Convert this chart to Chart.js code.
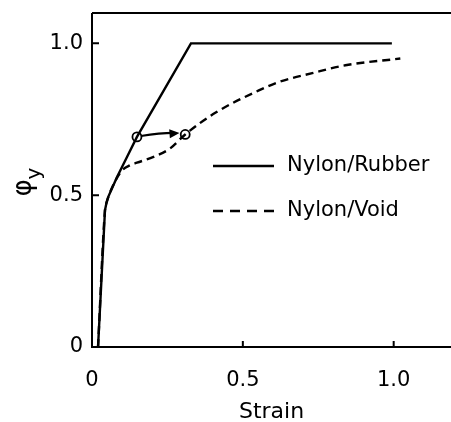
<!DOCTYPE html>
<html>
<head>
<meta charset="utf-8">
<script src="https://cdn.jsdelivr.net/npm/chart.js@4"></script>
<style>
  body { margin: 0; background: #fff; }
  #wrap { width: 451px; height: 422px; }
</style>
</head>
<body>
<div id="wrap"><canvas id="chart-1" width="451" height="422"></canvas></div>
<script>
// values
const rubberX = [0.02, 0.043, 0.048, 0.055, 0.083, 0.116, 0.149, 0.328, 0.994];
const rubberY = [0, 0.45, 0.475, 0.497, 0.56, 0.626, 0.692, 1.0, 1.0];

const voidX = [0.02, 0.043, 0.048, 0.055, 0.08, 0.1, 0.125, 0.149, 0.204, 0.259, 0.309, 0.41, 0.553, 0.62, 0.73, 0.84, 1.022];
const voidY = [0, 0.45, 0.475, 0.497, 0.552, 0.582, 0.598, 0.607, 0.626, 0.654, 0.70, 0.772, 0.845, 0.873, 0.902, 0.928, 0.95];

const markerX = [0.149, 0.309];
const markerY = [0.692, 0.70];

// arrow from first circle towards second
const arrowX = [0.162, 0.29];
const arrowY = [0.695, 0.705];

const xTicks = [0, 0.5, 1.0];
const xTickLabels = ['0', '0.5', '1.0'];
const yTicks = [0, 0.5, 1.0];
const yTickLabels = ['0', '0.5', '1.0'];

const seriesNames = ['Nylon/Rubber', 'Nylon/Void'];

const FONT = 'DejaVu Sans';

function toPoints(xs, ys) {
  return xs.map((x, i) => ({ x: x, y: ys[i] }));
}

// frame, inward ticks, arrow, legend and the y title
const extras = {
  id: 'extras',
  beforeDatasetsDraw(chart) {
    const ctx = chart.ctx;
    const a = chart.chartArea;
    const xs = chart.scales.x, ys = chart.scales.y;
    ctx.save();
    ctx.strokeStyle = '#000';
    ctx.lineWidth = 2;
    ctx.beginPath();
    ctx.moveTo(a.left, a.top);
    ctx.lineTo(a.right, a.top);
    ctx.moveTo(a.left, a.top);
    ctx.lineTo(a.left, a.bottom);
    ctx.lineTo(a.right, a.bottom);
    ctx.stroke();
    // inward tick marks
    ctx.beginPath();
    yTicks.forEach(v => {
      if (v === 0) return;
      const p = ys.getPixelForValue(v);
      ctx.moveTo(a.left, p);
      ctx.lineTo(a.left + 7, p);
    });
    xTicks.forEach(v => {
      if (v === 0) return;
      const p = xs.getPixelForValue(v);
      ctx.moveTo(p, a.bottom);
      ctx.lineTo(p, a.bottom - 6);
    });
    ctx.stroke();
    ctx.restore();
  },
  afterDatasetsDraw(chart) {
    const ctx = chart.ctx;
    const xs = chart.scales.x, ys = chart.scales.y;
    ctx.save();
    ctx.strokeStyle = '#000';
    ctx.fillStyle = '#000';
    ctx.lineWidth = 2.2;
    const x0 = xs.getPixelForValue(arrowX[0]), y0 = ys.getPixelForValue(arrowY[0]);
    const x1 = xs.getPixelForValue(arrowX[1]), y1 = ys.getPixelForValue(arrowY[1]);
    const ang = Math.atan2(y1 - y0, x1 - x0);
    ctx.beginPath();
    ctx.moveTo(x0, y0);
    ctx.quadraticCurveTo((x0 + x1) / 2, y0 - 3, x1 - 6, y1);
    ctx.stroke();
    ctx.beginPath();
    ctx.moveTo(x1, y1);
    ctx.lineTo(x1 - 10 * Math.cos(ang) + 4.5 * Math.sin(ang), y1 - 10 * Math.sin(ang) - 4.5 * Math.cos(ang));
    ctx.lineTo(x1 - 10 * Math.cos(ang) - 4.5 * Math.sin(ang), y1 - 10 * Math.sin(ang) + 4.5 * Math.cos(ang));
    ctx.closePath();
    ctx.fill();

    // legend
    const lx0 = 213, lx1 = 274, tx = 287;
    const rows = [166, 211];
    ctx.lineWidth = 2.4;
    rows.forEach((ry, i) => {
      ctx.setLineDash(i === 0 ? [] : [10, 7]);
      ctx.beginPath();
      ctx.moveTo(lx0, ry);
      ctx.lineTo(lx1, ry);
      ctx.stroke();
    });
    ctx.setLineDash([]);
    ctx.font = '21px "' + FONT + '"';
    ctx.textBaseline = 'middle';
    ctx.textAlign = 'left';
    rows.forEach((ry, i) => ctx.fillText(seriesNames[i], tx, ry));

    // y axis title: phi with subscript y, rotated
    ctx.translate(27, 184);
    ctx.rotate(-Math.PI / 2);
    ctx.textAlign = 'left';
    ctx.font = '26px "' + FONT + '"';
    const w = ctx.measureText('φ').width;
    ctx.fillText('φ', -w / 2 - 4, -3);
    ctx.font = '20px "' + FONT + '"';
    ctx.fillText('y', w / 2 - 4, 8);
    ctx.restore();
  }
};

const ctx = document.getElementById('chart-1').getContext('2d');
const chart = new Chart(ctx, {
  type: 'scatter',
  data: {
    datasets: [
      {
        label: seriesNames[0],
        data: toPoints(rubberX, rubberY),
        showLine: true,
        borderColor: '#000',
        borderWidth: 2.4,
        pointRadius: 0,
        tension: 0
      },
      {
        label: seriesNames[1],
        data: toPoints(voidX, voidY),
        showLine: true,
        borderColor: '#000',
        borderWidth: 2.4,
        borderDash: [8, 5],
        pointRadius: 0,
        cubicInterpolationMode: 'monotone'
      },
      {
        label: 'markers',
        data: toPoints(markerX, markerY),
        showLine: false,
        pointRadius: 4.5,
        pointBorderWidth: 1.8,
        pointBorderColor: '#000',
        pointBackgroundColor: '#fff'
      }
    ]
  },
  plugins: [extras],
  options: {
    responsive: false,
    animation: false,
    layout: { autoPadding: false, padding: { top: 13, right: 0, left: 0, bottom: 0 } },
    plugins: {
      legend: { display: false },
      tooltip: { enabled: false }
    },
    scales: {
      x: {
        type: 'linear',
        min: 0,
        max: 1.19,
        afterFit: s => { s.height = 75; s.paddingLeft = 0; s.paddingRight = 0; },
        afterBuildTicks: s => { s.ticks = xTicks.map(v => ({ value: v })); },
        grid: { display: false, drawTicks: false },
        border: { display: false },
        ticks: {
          padding: 21,
          color: '#000',
          font: { family: FONT, size: 21 },
          maxRotation: 0,
          callback: (v) => xTickLabels[xTicks.indexOf(v)]
        },
        title: {
          display: true,
          text: 'Strain',
          color: '#000',
          font: { family: FONT, size: 22, lineHeight: 1 },
          padding: { top: 0, bottom: -1 }
        }
      },
      y: {
        type: 'linear',
        min: 0,
        max: 1.1,
        afterFit: s => { s.width = 92; s.paddingTop = 0; s.paddingBottom = 0; },
        afterBuildTicks: s => { s.ticks = yTicks.map(v => ({ value: v })); },
        grid: { display: false, drawTicks: false },
        border: { display: false },
        ticks: {
          padding: 9,
          color: '#000',
          font: { family: FONT, size: 21 },
          callback: (v) => yTickLabels[yTicks.indexOf(v)]
        }
      }
    }
  }
});
</script>
</body>
</html>
